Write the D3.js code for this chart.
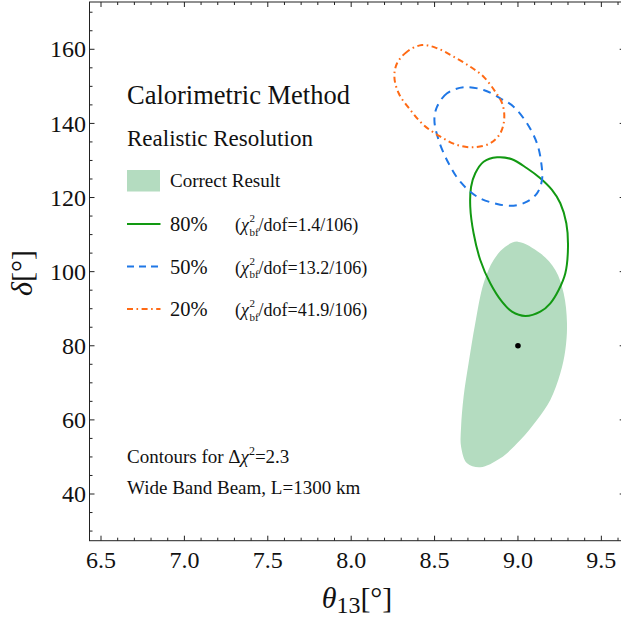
<!DOCTYPE html>
<html>
<head>
<meta charset="utf-8">
<script src="https://cdn.jsdelivr.net/npm/d3@7"></script>
<style>
  html, body { margin: 0; padding: 0; background: #fff; }
  svg { display: block; }
  text { font-family: "Liberation Serif", "Times New Roman", serif; fill: #111; }
</style>
</head>
<body>
<svg id="chart" width="621" height="621"></svg>
<script>
// Axis ranges and tick values
const xDomain = [6.431, 9.64];
const yDomain = [27.4, 172.76];
const xMajorTicks = [6.5, 7.0, 7.5, 8.0, 8.5, 9.0, 9.5];
const yMajorTicks = [40, 60, 80, 100, 120, 140, 160];

// Allowed region for the correct (true-resolution) fit: [theta13, delta]
const correctRegion = [
  [8.998, 108.1], [9.134, 104.95], [9.224, 100.45], [9.274, 94.16], [9.294, 86.07],
  [9.284, 78.86], [9.254, 72.57], [9.194, 65.37], [9.114, 59.97], [9.014, 54.57],
  [8.894, 49.64], [8.774, 47.21], [8.695, 48.29], [8.659, 52.77], [8.659, 58.17],
  [8.674, 66.26], [8.704, 75.27], [8.744, 86.07], [8.794, 96.86], [8.854, 103.15],
  [8.924, 106.73]
];

// 80% resolution contour
const contour80 = [
  [8.875, 130.86], [8.794, 129.67], [8.744, 126.54], [8.719, 122.92], [8.714, 117.53],
  [8.734, 110.35], [8.774, 103.15], [8.834, 96.86], [8.904, 91.89], [8.964, 89.2],
  [9.044, 88.04], [9.134, 89.2], [9.194, 91.46], [9.244, 95.05], [9.284, 99.56],
  [9.300, 106.73], [9.290, 113.05], [9.254, 118.45], [9.204, 122.04], [9.134, 125.19],
  [9.054, 127.89], [8.964, 130.32]
];

// 50% resolution contour
const contour50 = [
  [8.674, 149.75], [8.575, 148.13], [8.515, 144.51], [8.499, 140.92], [8.524, 135.53],
  [8.584, 129.24], [8.654, 124.27], [8.755, 120.23], [8.875, 118.26], [8.974, 117.8],
  [9.054, 118.88], [9.114, 121.14], [9.144, 124.73], [9.140, 129.24], [9.114, 134.64],
  [9.054, 140.03], [8.974, 144.51], [8.894, 146.78], [8.794, 149.02]
];

// 20% resolution contour
const contour20 = [
  [8.425, 161.16], [8.335, 159.35], [8.275, 156.22], [8.259, 152.61], [8.285, 148.13],
  [8.355, 143.62], [8.434, 139.57], [8.535, 136.42], [8.635, 134.18], [8.734, 133.56],
  [8.834, 134.64], [8.894, 137.33], [8.918, 141.38], [8.905, 145.43], [8.864, 148.56],
  [8.794, 152.61], [8.714, 155.30], [8.614, 158.0], [8.515, 160.27]
];

// True parameter point
const truePoint = [9.0, 80];

// Legend entries
const legendLabels = ["80%", "50%", "20%"];
const legendChi2 = ["1.4", "13.2", "41.9"];
const legendDof = "106";

const colors = { fill: "#b4dcc0", green: "#129912", blue: "#1f77e6", orange: "#ff6a14" };
const dashes = ["none", "8,6", "6,3.5,1.6,3.5"];

const svg = d3.select("#chart");
const plotLeft = 89.5, plotRight = 624.7, plotTop = 2, plotBottom = 540.7;

const x = d3.scaleLinear().domain(xDomain).range([plotLeft, plotRight]);
const y = d3.scaleLinear().domain(yDomain).range([plotBottom, plotTop]);

const clipId = "plotclip";
svg.append("clipPath").attr("id", clipId)
  .append("rect").attr("x", plotLeft).attr("y", plotTop)
  .attr("width", plotRight - plotLeft).attr("height", plotBottom - plotTop);

const plot = svg.append("g").attr("clip-path", `url(#${clipId})`);

const closedCurve = d3.line().x(d => x(d[0])).y(d => y(d[1])).curve(d3.curveCatmullRomClosed.alpha(0.5));

plot.append("path").datum(correctRegion)
  .attr("d", closedCurve).attr("fill", colors.fill).attr("stroke", "none");

const contours = [contour80, contour50, contour20];
const lineColors = [colors.green, colors.blue, colors.orange];
contours.forEach((c, i) => {
  plot.append("path").datum(c)
    .attr("d", closedCurve)
    .attr("fill", "none")
    .attr("stroke", lineColors[i])
    .attr("stroke-width", 2)
    .attr("stroke-dasharray", dashes[i]);
});

plot.append("circle")
  .attr("cx", x(truePoint[0])).attr("cy", y(truePoint[1]))
  .attr("r", 2.8).attr("fill", "#000");

// Frame with inward ticks on all sides
const frame = svg.append("g").attr("stroke", "#222").attr("stroke-width", 1).attr("fill", "none");
frame.append("rect").attr("x", plotLeft).attr("y", plotTop)
  .attr("width", plotRight - plotLeft).attr("height", plotBottom - plotTop);

const xMinor = d3.range(6.5, 9.65, 0.1).map(v => +v.toFixed(2))
  .filter(v => !xMajorTicks.some(m => Math.abs(m - v) < 1e-6));
const yMinor = d3.range(30, 175, 5).filter(v => !yMajorTicks.includes(v));

const majorLen = 5, minorLen = 3;
function xTicks(vals, len) {
  vals.forEach(v => {
    const px = x(v);
    frame.append("line").attr("x1", px).attr("x2", px).attr("y1", plotBottom).attr("y2", plotBottom - len);
    frame.append("line").attr("x1", px).attr("x2", px).attr("y1", plotTop).attr("y2", plotTop + len);
  });
}
function yTicks(vals, len) {
  vals.forEach(v => {
    const py = y(v);
    frame.append("line").attr("x1", plotLeft).attr("x2", plotLeft + len).attr("y1", py).attr("y2", py);
    frame.append("line").attr("x1", plotRight).attr("x2", plotRight - len).attr("y1", py).attr("y2", py);
  });
}
xTicks(xMajorTicks, majorLen); xTicks(xMinor, minorLen);
yTicks(yMajorTicks, majorLen); yTicks(yMinor, minorLen);

// Tick labels
const fmtX = d3.format(".1f");
svg.append("g").selectAll("text").data(xMajorTicks).join("text")
  .attr("x", d => x(d)).attr("y", 568)
  .attr("text-anchor", "middle").attr("font-size", 24)
  .text(d => fmtX(d));

svg.append("g").selectAll("text").data(yMajorTicks).join("text")
  .attr("x", 86).attr("y", d => y(d)).attr("dy", "0.34em")
  .attr("text-anchor", "end").attr("font-size", 24)
  .text(d => d);

// Axis titles
const xt = svg.append("text").attr("x", 357).attr("y", 608).attr("text-anchor", "middle").attr("font-size", 30);
xt.append("tspan").attr("font-style", "italic").text("θ");
xt.append("tspan").attr("font-size", 24).attr("dy", 5).text("13");
xt.append("tspan").attr("dy", -5).text("[°]");

const yt = svg.append("text").attr("transform", "translate(32,273) rotate(-90)")
  .attr("text-anchor", "middle").attr("font-size", 30);
yt.append("tspan").attr("font-style", "italic").text("δ");
yt.append("tspan").text("[°]");

// Legend and annotations
svg.append("text").attr("x", 127).attr("y", 104).attr("font-size", 26.5).text("Calorimetric Method");
svg.append("text").attr("x", 127).attr("y", 145.5).attr("font-size", 23).text("Realistic Resolution");

svg.append("rect").attr("x", 127).attr("y", 170).attr("width", 33).attr("height", 21.5).attr("fill", colors.fill);
svg.append("text").attr("x", 170).attr("y", 187).attr("font-size", 19).text("Correct Result");

const rowLine = [224, 266.5, 309];
legendLabels.forEach((lab, i) => {
  svg.append("line")
    .attr("x1", 127).attr("x2", 160.5).attr("y1", rowLine[i]).attr("y2", rowLine[i])
    .attr("stroke", lineColors[i]).attr("stroke-width", 2)
    .attr("stroke-dasharray", i === 1 ? "7,5" : dashes[i]);
  const base = rowLine[i] + 7;
  svg.append("text").attr("x", 170).attr("y", base).attr("font-size", 20.5).text(lab);
  // chi-square label: "(" + chi + stacked sup/sub + rest
  const g = svg.append("g");
  const head = g.append("text").attr("x", 235).attr("y", base).attr("font-size", 18);
  head.append("tspan").text("(");
  head.append("tspan").attr("font-style", "italic").text("χ");
  const hx = 235 + head.node().getComputedTextLength();
  g.append("text").attr("x", hx + 0.5).attr("y", base - 9).attr("font-size", 11).text("2");
  const sub = g.append("text").attr("x", hx + 0.5).attr("y", base + 4.5).attr("font-size", 11).text("bf");
  const sx = hx + 0.5 + sub.node().getComputedTextLength();
  g.append("text").attr("x", sx).attr("y", base).attr("font-size", 18)
    .text("/dof=" + legendChi2[i] + "/" + legendDof + ")");
});

const c1 = svg.append("text").attr("x", 127).attr("y", 462.5).attr("font-size", 19);
c1.append("tspan").text("Contours for Δ");
c1.append("tspan").attr("font-style", "italic").text("χ");
c1.append("tspan").attr("font-size", 12).attr("dy", -8).text("2");
c1.append("tspan").attr("dy", 8).text("=2.3");

svg.append("text").attr("x", 127).attr("y", 494.3).attr("font-size", 19).text("Wide Band Beam, L=1300 km");
</script>
</body>
</html>
